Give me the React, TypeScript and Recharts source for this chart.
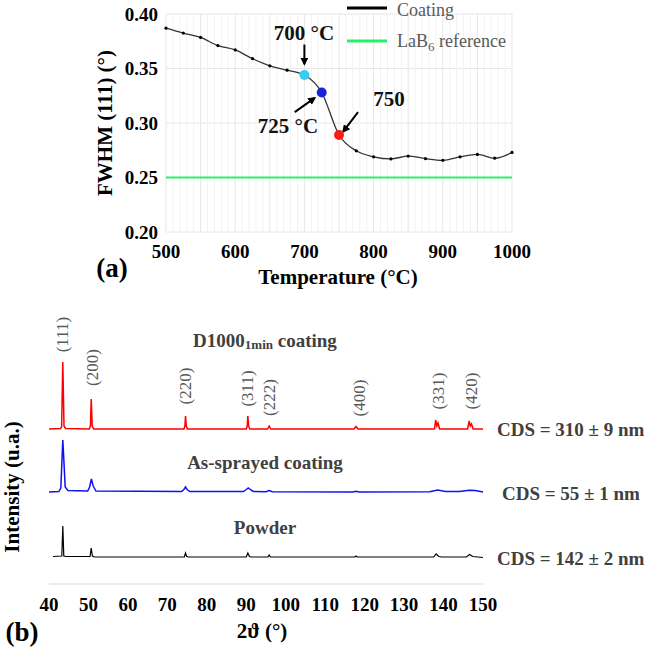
import { LineChart, Line, XAxis, YAxis, CartesianGrid, ReferenceLine, ReferenceDot } from 'recharts';

// (a) FWHM of the (111) peak vs annealing temperature
const temps = [500, 525, 550, 575, 600, 625, 650, 675, 700, 725, 750, 775, 800, 825, 850, 875, 900, 925, 950, 975, 1000];
const fwhm = [0.387, 0.3825, 0.3785, 0.371, 0.367, 0.359, 0.3525, 0.3485, 0.344, 0.328, 0.289, 0.2745, 0.269, 0.267, 0.2697, 0.2673, 0.2658, 0.269, 0.2712, 0.2677, 0.273];
const lab6Ref = [0.25, 0.25, 0.25, 0.25, 0.25, 0.25, 0.25, 0.25, 0.25, 0.25, 0.25, 0.25, 0.25, 0.25, 0.25, 0.25, 0.25, 0.25, 0.25, 0.25, 0.25];
const tempTicks = [500, 600, 700, 800, 900, 1000];
const fwhmTicks = [0.2, 0.25, 0.3, 0.35, 0.4];
const minorGrid = [510, 520, 530, 540, 560, 570, 580, 590, 610, 620, 630, 640, 660, 670, 680, 690, 710, 720, 730, 740, 760, 770, 780, 790, 810, 820, 830, 840, 860, 870, 880, 890, 910, 920, 930, 940, 960, 970, 980, 990];
const majorGrid = [500, 550, 600, 650, 700, 750, 800, 850, 900, 950, 1000];
const highlight: Record<number, string> = { 700: '#38cdf0', 725: '#1a22e0', 750: '#ff1a1a' };

// (b) XRD patterns, [2theta, stacked intensity]
const d1000: [number, number][] = [
  [40, 155], [42.9, 155.5], [43.2, 157], [43.5, 222], [43.8, 158], [44.2, 155.5],
  [50.2, 155], [50.5, 158], [50.7, 185], [50.95, 158], [51.3, 155],
  [74.2, 155], [74.45, 158], [74.6, 168], [74.8, 158], [75.1, 155],
  [90.0, 155], [90.25, 158], [90.4, 168], [90.6, 158], [90.9, 155],
  [95.4, 155], [95.8, 158], [96.2, 155],
  [117.3, 155], [117.8, 157.5], [118.3, 155],
  [137.7, 155], [138.0, 164], [138.3, 158], [138.6, 161], [139.0, 155],
  [146.1, 155], [146.5, 163], [146.8, 158], [147.1, 160], [147.5, 155], [150, 155],
];
const asSprayed: [number, number][] = [
  [40, 92], [42.5, 92.5], [43.0, 96], [43.3, 125], [43.5, 144], [43.75, 125], [44.1, 97], [44.8, 93.5],
  [49.8, 93], [50.3, 97], [50.75, 105], [51.2, 98], [51.9, 93],
  [73.6, 92.5], [74.2, 94.5], [74.6, 97], [75.0, 94.5], [75.7, 92.5],
  [89.3, 92.5], [90.0, 94.5], [90.5, 96], [91.0, 94.5], [91.8, 92.5],
  [95.0, 92.3], [95.8, 93.5], [96.6, 92.3],
  [117, 92], [117.8, 92.7], [118.6, 92],
  [136.5, 92.3], [138.5, 94], [140.5, 92.5],
  [144, 92.5], [146.5, 93.8], [148, 93.5], [150, 92],
];
const powder: [number, number][] = [
  [41, 27.5], [43.25, 28], [43.5, 58], [43.75, 28], [44.3, 27.5],
  [50.4, 27.5], [50.7, 36], [51.0, 28], [51.5, 27],
  [74.3, 27], [74.6, 31], [74.9, 27.5], [75.4, 27],
  [90.0, 27], [90.4, 31], [90.8, 27.5], [91.3, 27],
  [95.5, 27], [95.8, 29], [96.1, 27],
  [117.5, 27], [117.8, 28], [118.1, 27],
  [137.5, 27], [138.1, 30], [138.8, 27.5], [139.5, 27],
  [145.8, 27], [146.6, 29.5], [147.4, 27.5], [150, 26.5],
];
const thetaTicks = [40, 50, 60, 70, 80, 90, 100, 110, 120, 130, 140, 150];
const peakNames = ['(111)', '(200)', '(220)', '(311)', '(222)', '(400)', '(331)', '(420)'];
const peakX = [43.5, 50.9, 74.5, 90.4, 96.0, 118.6, 138.6, 147.2];
const peakLabelY = [249.5, 216.5, 198, 195.5, 186.5, 186, 193, 193];

const fwhmData = temps.map((t, i) => ({ temp: t, coating: fwhm[i], ref: lab6Ref[i] }));
const toXY = (arr: [number, number][]) => arr.map(([x, y]) => ({ x, y }));

const SERIF = '"Liberation Serif", "Times New Roman", serif';
const GRAY = '#595959';
const DARK = '#404040';

function FwhmDot(props: any) {
  const { cx, cy, payload } = props;
  const c = highlight[payload.temp];
  if (c) return <circle key={payload.temp} cx={cx} cy={cy} r={5} fill={c} stroke="none" />;
  return <circle key={payload.temp} cx={cx} cy={cy} r={1.6} fill="#000" stroke="none" />;
}

function PeakLabel(text: string) {
  return (props: any) => (
    <text
      x={props.cx}
      y={props.cy}
      transform={`rotate(-90 ${props.cx} ${props.cy})`}
      textAnchor="middle"
      dominantBaseline="central"
      fontFamily={SERIF}
      fontSize={17}
      fill={GRAY}
    >
      {text}
    </text>
  );
}

export default function App() {
  const bold = { fontFamily: SERIF, fontWeight: 700 } as const;
  return (
    <div style={{ position: 'absolute', left: 0, top: 0, width: 645, height: 649, background: '#fff', overflow: 'hidden' }}>
      <svg width={0} height={0} style={{ position: 'absolute' }}>
        <defs>
          <marker id="arrowHead" viewBox="0 0 10 10" refX="8" refY="5" markerWidth="4" markerHeight="4" orient="auto">
            <path d="M0,0 L10,5 L0,10 z" fill="#000" />
          </marker>
        </defs>
      </svg>

      <div style={{ position: 'absolute', left: 0, top: 0 }}>
        <LineChart width={645} height={300} data={fwhmData} margin={{ top: 14, right: 133, bottom: 38, left: 106 }}>
          <CartesianGrid vertical={false} stroke="#e6e6e6" />
          {minorGrid.map((v) => (
            <ReferenceLine key={'mi' + v} x={v} stroke="#f2f2f2" strokeWidth={1} />
          ))}
          {majorGrid.map((v) => (
            <ReferenceLine key={'ma' + v} x={v} stroke="#e6e6e6" strokeWidth={1} />
          ))}
          <XAxis
            dataKey="temp"
            type="number"
            domain={[500, 1000]}
            ticks={tempTicks}
            axisLine={false}
            tickLine={false}
            tickSize={0}
            tickMargin={13}
            height={30}
            tick={{ fill: '#000', fontSize: 19, fontFamily: SERIF, fontWeight: 700 }}
          />
          <YAxis
            type="number"
            domain={[0.2, 0.4]}
            ticks={fwhmTicks}
            tickFormatter={(v: number) => v.toFixed(2)}
            axisLine={false}
            tickLine={false}
            tickSize={0}
            tickMargin={8}
            width={60}
            tick={{ fill: '#000', fontSize: 19, fontFamily: SERIF, fontWeight: 700 }}
          />
          <Line dataKey="ref" type="linear" stroke="#2cee6a" strokeWidth={2} dot={false} isAnimationActive={false} />
          <Line dataKey="coating" type="monotone" stroke="#333" strokeWidth={1.3} dot={FwhmDot} isAnimationActive={false} />
          <ReferenceLine segment={[{ x: 700, y: 0.372 }, { x: 700, y: 0.354 }]} stroke="#000" strokeWidth={2} markerEnd="url(#arrowHead)" ifOverflow="visible" />
          <ReferenceLine segment={[{ x: 686, y: 0.31 }, { x: 715, y: 0.323 }]} stroke="#000" strokeWidth={2} markerEnd="url(#arrowHead)" ifOverflow="visible" />
          <ReferenceLine segment={[{ x: 777.5, y: 0.31 }, { x: 756, y: 0.292 }]} stroke="#000" strokeWidth={2} markerEnd="url(#arrowHead)" ifOverflow="visible" />
        </LineChart>
      </div>

      <div style={{ position: 'absolute', left: 0, top: 300 }}>
        <LineChart width={645} height={349} margin={{ top: 14, right: 162, bottom: 35, left: 49 }}>
          <XAxis
            dataKey="x"
            type="number"
            domain={[40, 150]}
            ticks={thetaTicks}
            allowDuplicatedCategory={false}
            axisLine={{ stroke: '#d9d9d9' }}
            tickLine={false}
            tickSize={0}
            tickMargin={14}
            height={30}
            tick={{ fill: '#000', fontSize: 19, fontFamily: SERIF, fontWeight: 700 }}
          />
          <YAxis type="number" domain={[0, 270]} hide />
          <Line data={toXY(d1000)} dataKey="y" type="linear" stroke="#ff0000" strokeWidth={1.5} dot={false} isAnimationActive={false} />
          <Line data={toXY(asSprayed)} dataKey="y" type="linear" stroke="#1010f0" strokeWidth={1.5} dot={false} isAnimationActive={false} />
          <Line data={toXY(powder)} dataKey="y" type="linear" stroke="#000" strokeWidth={1.2} dot={false} isAnimationActive={false} />
          {peakNames.map((n, i) => (
            <ReferenceDot key={n} x={peakX[i]} y={peakLabelY[i]} r={0} ifOverflow="visible" shape={PeakLabel(n)} />
          ))}
        </LineChart>
      </div>

      <svg width={645} height={649} style={{ position: 'absolute', left: 0, top: 0, pointerEvents: 'none' }}>
        {/* legend (a) */}
        <line x1={347} y1={8} x2={387} y2={8} stroke="#000" strokeWidth={3} />
        <text x={397} y={10} dominantBaseline="central" fontFamily={SERIF} fontSize={18} fill={GRAY}>Coating</text>
        <line x1={347} y1={41} x2={387} y2={41} stroke="#2cee6a" strokeWidth={3} />
        <text x={397} y={41} dominantBaseline="central" fontFamily={SERIF} fontSize={18} fill={GRAY}>
          LaB<tspan fontSize={13} dy={5}>6</tspan><tspan dy={-5}> reference</tspan>
        </text>

        {/* annotations (a) */}
        <text x={304} y={33} textAnchor="middle" dominantBaseline="central" {...bold} fontSize={21} fill="#111">700 °C</text>
        <text x={288} y={126} textAnchor="middle" dominantBaseline="central" {...bold} fontSize={21} fill="#111">725 °C</text>
        <text x={389} y={99} textAnchor="middle" dominantBaseline="central" {...bold} fontSize={21} fill="#111">750</text>

        <text x={105} y={123} transform="rotate(-90 105 123)" textAnchor="middle" dominantBaseline="central" {...bold} fontSize={21} fill="#000">FWHM (111) (°)</text>
        <text x={338} y={277} textAnchor="middle" dominantBaseline="central" {...bold} fontSize={21} fill="#000">Temperature (°C)</text>
        <text x={112} y={268} textAnchor="middle" dominantBaseline="central" {...bold} fontSize={27} fill="#000">(a)</text>

        {/* (b) */}
        <text x={265} y={340} textAnchor="middle" dominantBaseline="central" {...bold} fontSize={19} fill={DARK}>
          D1000<tspan fontSize={13} dy={4}>1min</tspan><tspan dy={-4}> coating</tspan>
        </text>
        <text x={265} y={462} textAnchor="middle" dominantBaseline="central" {...bold} fontSize={19} fill={DARK}>As-sprayed coating</text>
        <text x={265} y={527} textAnchor="middle" dominantBaseline="central" {...bold} fontSize={19} fill={DARK}>Powder</text>
        <text x={497} y={429} dominantBaseline="central" {...bold} fontSize={19} fill={DARK}>CDS = 310 ± 9 nm</text>
        <text x={502} y={493} dominantBaseline="central" {...bold} fontSize={19} fill={DARK}>CDS = 55 ± 1 nm</text>
        <text x={497} y={558} dominantBaseline="central" {...bold} fontSize={19} fill={DARK}>CDS = 142 ± 2 nm</text>

        <text x={12} y={487} transform="rotate(-90 12 487)" textAnchor="middle" dominantBaseline="central" {...bold} fontSize={21} fill="#000">Intensity (u.a.)</text>
        <text x={262} y={631} textAnchor="middle" dominantBaseline="central" {...bold} fontSize={21} fill="#000">2ϑ (°)</text>
        <text x={22} y={632} textAnchor="middle" dominantBaseline="central" {...bold} fontSize={27} fill="#000">(b)</text>
      </svg>
    </div>
  );
}
